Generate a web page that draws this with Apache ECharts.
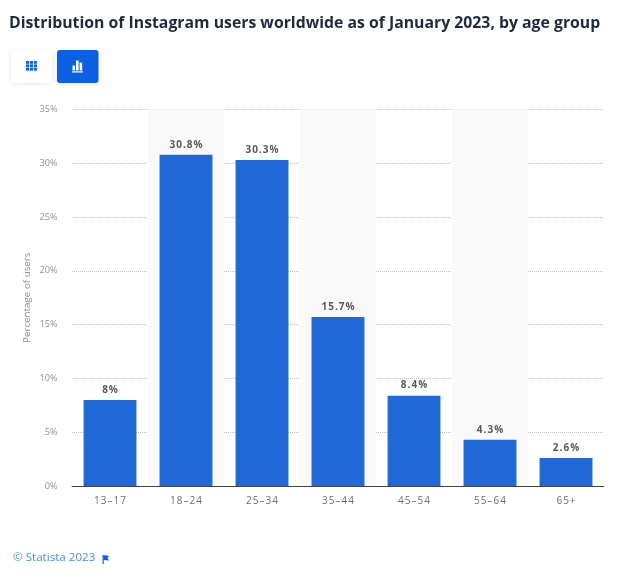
<!DOCTYPE html>
<html>
<head>
<meta charset="utf-8">
<style>html,body{margin:0;padding:0;background:#fff}#c{width:620px;height:580px}</style>
<script src="https://cdn.jsdelivr.net/npm/echarts@6/dist/echarts.min.js"></script>
</head>
<body>
<div id="c"></div>
<script>
const chartTitle = 'Distribution of Instagram users worldwide as of January 2023, by age group';
const categories = ['13-17','18-24','25-34','35-44','45-54','55-64','65+'];
const shares = [8, 30.8, 30.3, 15.7, 8.4, 4.3, 2.6];
const yTicks = [0,5,10,15,20,25,30,35];
const yAxisName = 'Percentage of users';
const credit = '\u00A9 Statista 2023';

const font = '"Open Sans", sans-serif';
const chart = echarts.init(document.getElementById('c'), null, {renderer:'canvas'});

function rects(list, fill){
  return list.map(r => ({type:'rect', shape:{x:r[0],y:r[1],width:r[2],height:r[3]}, style:{fill}, silent:true}));
}
const spaced = s => s.split('').join('\u200A');
const gridCells = [];
for (const y of [61,64.4,67.8]) for (const x of [26,29.9,33.8]) gridCells.push([x,y,3.1,2.8]);

chart.setOption({
  animation:false,
  backgroundColor:'#fff',
  title:{
    text:chartTitle, left:9, top:15, padding:0,
    textStyle:{fontFamily:font,fontSize:15.8,fontWeight:700,color:'#1d2b3e'}
  },
  grid:{left:72,right:16,top:109.5,bottom:94,containLabel:false},
  xAxis:{
    type:'category', data:categories,
    axisLine:{lineStyle:{color:'#444',width:1}},
    axisTick:{show:false},
    axisLabel:{fontFamily:font,fontSize:10,color:'#6e6e6e',margin:10,
      formatter:v=>spaced(v.replace('-','\u2013'))},
    splitArea:{show:true,areaStyle:{color:['rgba(255,255,255,0)','#f9f9f9']}},
    splitLine:{show:false}
  },
  yAxis:{
    type:'value', min:0, max:35, interval:5,
    name:yAxisName, nameLocation:'middle', nameGap:40, nameRotate:90, nameMoveOverlap:false,
    nameTextStyle:{fontFamily:font,fontSize:9.8,color:'#8f8f8f'},
    axisLine:{show:false}, axisTick:{show:false},
    axisLabel:{fontFamily:font,fontSize:9.2,color:'#929292',margin:14.5,
      formatter:v=>yTicks.includes(v)?v+'%':''},
    splitLine:{show:true,lineStyle:{color:'#c4c4c4',type:[1,1],width:1}}
  },
  series:[{
    type:'bar', data:shares, barWidth:'69.6%',
    itemStyle:{color:'#2269d8'},
    label:{show:true,position:'top',distance:5,fontFamily:font,fontSize:10,fontWeight:700,color:'#595959',
      formatter:p=>spaced(p.value+'%')}
  }],
  graphic:[
    {type:'rect',shape:{x:11,y:50,width:41,height:33,r:3},
     style:{fill:'#fff',shadowBlur:5,shadowColor:'rgba(0,0,0,0.10)',shadowOffsetY:1},silent:true},
    {type:'rect',shape:{x:57,y:50,width:41.5,height:33,r:3},
     style:{fill:'#0b5fe3',shadowBlur:4,shadowColor:'rgba(0,0,0,0.10)',shadowOffsetY:1},silent:true},
    ...rects(gridCells,'#0b5fe3'),
    ...rects([[72.5,65.5,2.6,5],[76,60.5,2.6,10],[79.6,62.5,2.6,8],[72,71.3,11,1.2]],'#fff'),
    {type:'text',left:13,top:552,style:{text:credit,fontFamily:font,fontSize:11.6,fill:'#4a8bf0'},silent:true},
    {type:'rect',shape:{x:102.5,y:555,width:1.2,height:9},style:{fill:'#0b5fe3'},silent:true},
    {type:'polygon',shape:{points:[[103.5,555],[109,556],[107.5,558],[109,560.5],[103.5,560]]},style:{fill:'#0b5fe3'},silent:true}
  ]
});
</script>
</body>
</html>
